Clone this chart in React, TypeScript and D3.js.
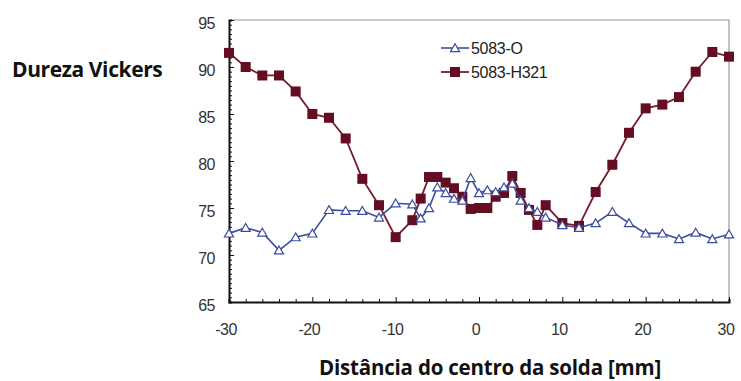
import React, { useEffect, useRef } from 'react';
import * as d3 from 'd3';

// Hardness profile across the weld
const xO = [-30, -28, -26, -24, -22, -20, -18, -16, -14, -12, -10, -8, -7, -6, -5, -4, -3, -2, -1, 0, 1, 2, 3, 4, 5, 6, 7, 8, 10, 12, 14, 16, 18, 20, 22, 24, 26, 28, 30];
const yO = [72.3, 72.9, 72.4, 70.5, 71.9, 72.3, 74.8, 74.7, 74.7, 74.0, 75.5, 75.4, 73.9, 75.0, 77.2, 76.6, 76.0, 75.8, 78.2, 76.6, 76.9, 76.7, 77.2, 77.6, 75.8, 75.0, 74.6, 74.0, 73.2, 72.9, 73.4, 74.6, 73.4, 72.3, 72.3, 71.7, 72.4, 71.7, 72.2];

const xH = [-30, -28, -26, -24, -22, -20, -18, -16, -14, -12, -10, -8, -7, -6, -5, -4, -3, -2, -1, 0, 1, 2, 3, 4, 5, 6, 7, 8, 10, 12, 14, 16, 18, 20, 22, 24, 26, 28, 30];
const yH = [91.5, 90.0, 89.1, 89.1, 87.4, 85.0, 84.6, 82.4, 78.1, 75.3, 71.9, 73.7, 76.0, 78.3, 78.3, 77.7, 77.1, 76.2, 74.9, 75.0, 75.0, 76.2, 76.6, 78.4, 76.6, 74.8, 73.2, 75.3, 73.4, 73.1, 76.7, 79.6, 83.0, 85.6, 86.0, 86.8, 89.5, 91.6, 91.1];

const seriesNames = ['5083-O', '5083-H321'];
const xTicks = [-30, -20, -10, 0, 10, 20, 30];
const yTicks = [65, 70, 75, 80, 85, 90, 95];

const W = 741;
const H = 381;

const App = () => {
  const ref = useRef<SVGSVGElement>(null);

  useEffect(() => {
    const svg = d3.select(ref.current);
    svg.selectAll('*').remove();

    const left = 229;
    const right = 729;
    const top = 20;
    const bottom = 302;

    const x = d3.scaleLinear().domain([-30, 30]).range([left, right]);
    const y = d3.scaleLinear().domain([65, 95]).range([bottom, top]);

    const blue = '#3b4c9c';
    const red = '#7a1a30';
    const redFill = '#650d22';
    const tickFont = 'Liberation Sans, Arial, sans-serif';

    svg.append('rect').attr('width', W).attr('height', H).attr('fill', '#fff');

    // top / right frame
    svg.append('path')
      .attr('d', `M${left},${top}H${right}V${bottom}`)
      .attr('fill', 'none')
      .attr('stroke', '#9a9a9a')
      .attr('stroke-width', 1.2);

    // y axis with inward minor ticks
    const yAxis = d3.axisLeft(y).tickValues(d3.range(65, 95.01, 0.5)).tickSize(-3).tickFormat(() => '');
    const gy = svg.append('g').attr('transform', `translate(${left},0)`).call(yAxis);
    gy.selectAll('.tick line').attr('stroke', '#111');
    gy.selectAll('.tick')
      .filter((d: any) => d % 5 === 0)
      .select('line')
      .attr('x2', 5);
    gy.select('.domain').attr('stroke', '#111').attr('stroke-width', 2);

    svg.append('g')
      .selectAll('text')
      .data(yTicks)
      .join('text')
      .attr('x', left - 14)
      .attr('y', (d) => y(d) + 9)
      .attr('text-anchor', 'end')
      .attr('font-family', tickFont)
      .attr('font-size', 16)
      .attr('letter-spacing', -0.5)
      .attr('fill', '#333')
      .text((d) => d);

    // x axis with inward ticks
    const xAxis = d3.axisBottom(x).tickValues(d3.range(-30, 30.01, 2)).tickSize(-3).tickFormat(() => '');
    const gx = svg.append('g').attr('transform', `translate(0,${bottom})`).call(xAxis);
    gx.selectAll('.tick line').attr('stroke', '#111');
    gx.selectAll('.tick')
      .filter((d: any) => d % 10 === 0)
      .select('line')
      .attr('y2', -5);
    gx.select('.domain').attr('stroke', '#111').attr('stroke-width', 2);

    svg.append('g')
      .selectAll('text')
      .data(xTicks)
      .join('text')
      .attr('x', (d) => x(d) - 3)
      .attr('y', bottom + 33)
      .attr('text-anchor', 'middle')
      .attr('font-family', tickFont)
      .attr('font-size', 16)
      .attr('letter-spacing', -0.5)
      .attr('fill', '#333')
      .text((d) => d);

    // axis titles
    svg.append('text')
      .attr('x', 12)
      .attr('y', 77)
      .attr('font-family', 'Open Sans, sans-serif')
      .attr('font-weight', 'bold')
      .attr('font-size', 21)
      .attr('letter-spacing', -0.4)
      .attr('fill', '#111')
      .text('Dureza Vickers');

    svg.append('text')
      .attr('x', 490)
      .attr('y', 375)
      .attr('text-anchor', 'middle')
      .attr('font-family', 'Open Sans, sans-serif')
      .attr('font-weight', 'bold')
      .attr('font-size', 20.5)
      .attr('letter-spacing', -0.2)
      .attr('fill', '#111')
      .text('Distância do centro da solda [mm]');

    const line = d3.line<[number, number]>().x((d) => x(d[0])).y((d) => y(d[1]));
    const dataO: [number, number][] = xO.map((v, i) => [v, yO[i]]);
    const dataH: [number, number][] = xH.map((v, i) => [v, yH[i]]);

    const tri = d3.symbol().type(d3.symbolTriangle).size(36);

    // 5083-H321
    svg.append('path').attr('d', line(dataH)).attr('fill', 'none').attr('stroke', red).attr('stroke-width', 1.8);
    svg.append('g')
      .selectAll('rect')
      .data(dataH)
      .join('rect')
      .attr('x', (d) => x(d[0]) - 5)
      .attr('y', (d) => y(d[1]) - 5)
      .attr('width', 10)
      .attr('height', 10)
      .attr('fill', redFill);

    // 5083-O
    svg.append('path').attr('d', line(dataO)).attr('fill', 'none').attr('stroke', blue).attr('stroke-width', 1.6);
    svg.append('g')
      .selectAll('path')
      .data(dataO)
      .join('path')
      .attr('d', tri)
      .attr('transform', (d) => `translate(${x(d[0])},${y(d[1]) + 1})`)
      .attr('fill', '#fff')
      .attr('stroke', blue)
      .attr('stroke-width', 1.2);

    // legend
    const lg = svg.append('g').attr('transform', 'translate(441,48)');
    lg.append('line').attr('x1', 0).attr('x2', 28).attr('y1', 0).attr('y2', 0).attr('stroke', blue).attr('stroke-width', 1.6);
    lg.append('path').attr('d', tri).attr('transform', 'translate(14,1)').attr('fill', '#fff').attr('stroke', blue).attr('stroke-width', 1.2);
    lg.append('line').attr('x1', 0).attr('x2', 28).attr('y1', 24).attr('y2', 24).attr('stroke', red).attr('stroke-width', 1.8);
    lg.append('rect').attr('x', 9).attr('y', 19).attr('width', 10).attr('height', 10).attr('fill', redFill);
    lg.selectAll('text.lab')
      .data(seriesNames)
      .join('text')
      .attr('class', 'lab')
      .attr('x', 30)
      .attr('y', (_d, i) => i * 24 + 6)
      .attr('font-family', tickFont)
      .attr('font-size', 16)
      .attr('letter-spacing', -0.3)
      .attr('fill', '#222')
      .text((d) => d);
  }, []);

  return (
    <svg
      ref={ref}
      width={W}
      height={H}
      style={{ position: 'absolute', left: 0, top: 0 }}
    />
  );
};

export default App;
